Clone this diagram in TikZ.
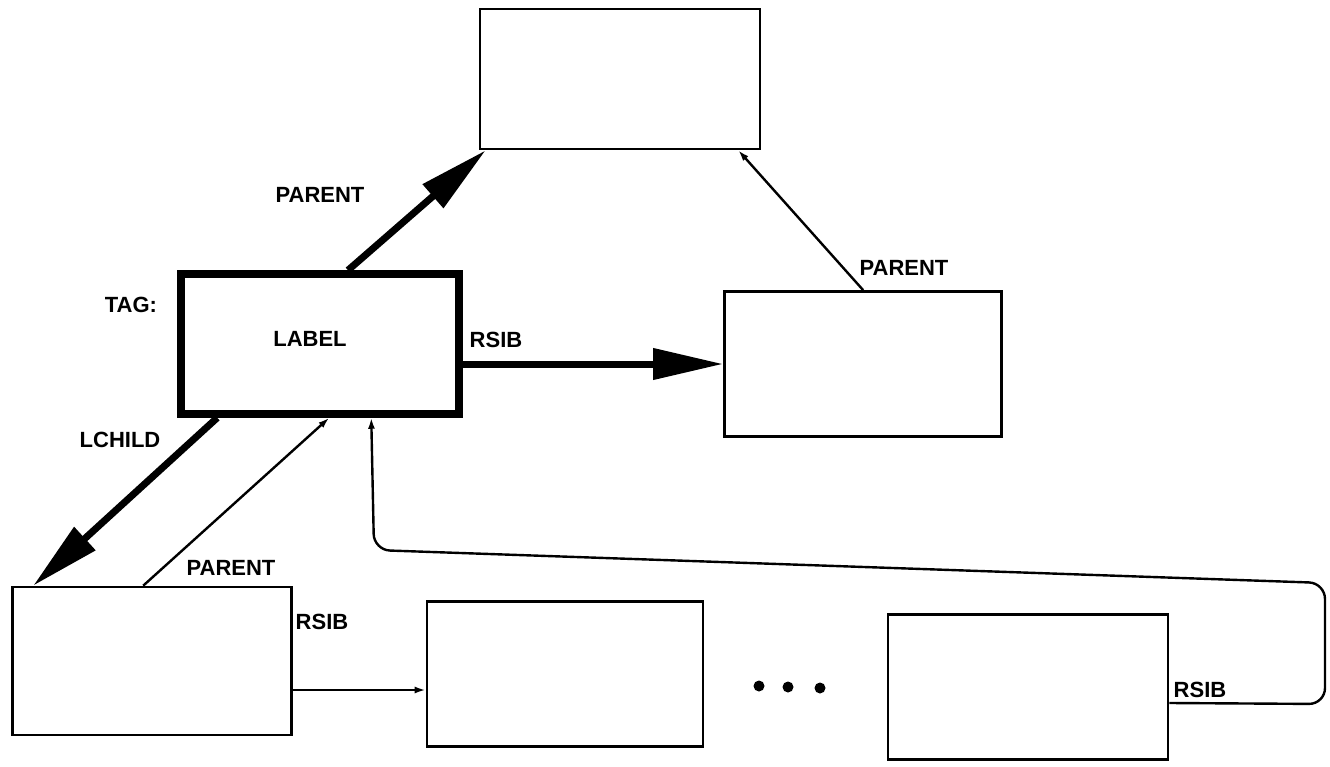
\documentclass[tikz,border=0pt]{standalone}
\usepackage{fontspec}
\setmainfont{Liberation Sans}
\usetikzlibrary{arrows.meta,calc}
\begin{document}
\begin{tikzpicture}[x=1pt,y=-1pt,
  box/.style={draw,line width=2.6pt,inner sep=0pt,fill=white},
  bigbox/.style={draw,line width=7.5pt,inner sep=0pt},
  thick arrow/.style={line width=7pt,-{Triangle[length=70pt,width=30pt]}},
  thin arrow/.style={line width=2.4pt,-{Latex[length=11pt,width=7pt]}},
  lbl/.style={font=\fontsize{22}{24}\selectfont\bfseries,inner sep=0pt}]
\useasboundingbox (0,0) rectangle (1330,767);
% boxes
\node[box,minimum width=280pt,minimum height=140pt] (top) at (620,79) {};
\node[bigbox,minimum width=278pt,minimum height=140pt] (lab) at (320,344) {};
\node[lbl] (labtxt) at (310,339) {LABEL};
\node[box,minimum width=277pt,minimum height=145pt] (rb) at (863,364) {};
\node[box,minimum width=279pt,minimum height=148pt] (bl) at (152,661) {};
\node[box,minimum width=276pt,minimum height=145pt] (bm) at (565,674) {};
\node[box,minimum width=280pt,minimum height=145pt] (br) at (1028,687) {};
% labels
\node[lbl] (tag) at (131,305) {TAG:};
\node[lbl] (lp) at (320,195) {PARENT};
\node[lbl] (lr) at (496,340) {RSIB};
\node[lbl] (lc) at (120,440) {LCHILD};
\node[lbl] (bp) at (231,568) {PARENT};
\node[lbl] (rp) at (904,268) {PARENT};
\node[lbl] (br1) at (322,622) {RSIB};
\node[lbl] (br2) at (1200,690) {RSIB};
% dots
\fill (759,686) circle (5.5pt);
\fill (788,687) circle (5.5pt);
\fill (820,688) circle (5.5pt);
% connectors
\draw[thick arrow] ($(lab.north)+(28,0)$) -- ($(top.south west)+(7,0)$);
\draw[thick arrow] (lab.east |- rb.west) -- (rb.west);
\draw[thick arrow] ($(lab.south west)+(40,0)$) -- ($(bl.north west)+(22,0)$);
\draw[thin arrow] ($(bl.north west)+(132,0)$) -- ($(lab.south west)+(152,0)$);
\draw[thin arrow] ($(rb.north west)+(140,0)$) -- ($(top.south east)+(-23,0)$);
\draw[thin arrow] ($(bl.east)+(0,29)$) -- ($(bm.west)+(0,16)$);
\coordinate (c1) at (1325,704);
\coordinate (c2) at (1325,583);
\coordinate (c3) at (374,550);
\draw[thin arrow,rounded corners=16pt] ($(br.east)+(0,16)$) -- (c1) -- (c2) -- (c3) -- ($(lab.south west)+(194,0)$);
\end{tikzpicture}
\end{document}
